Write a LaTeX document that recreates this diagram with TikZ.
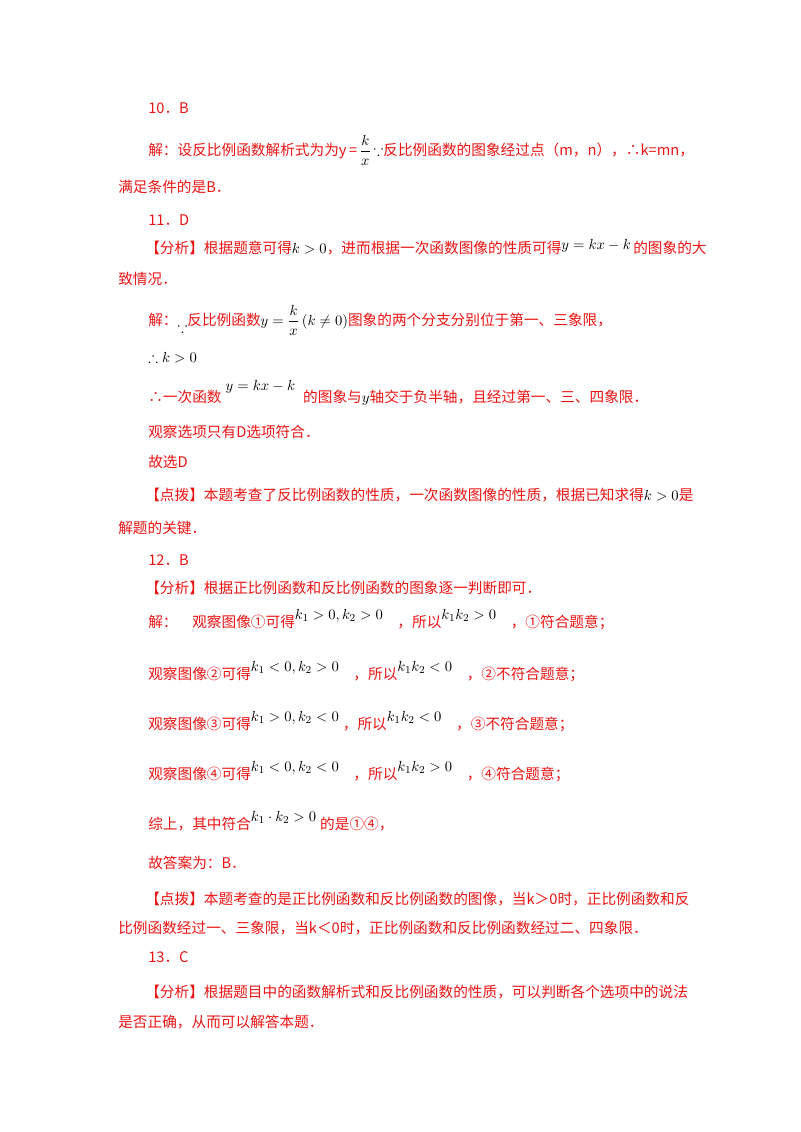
\documentclass[tikz,border=0pt]{standalone}
\usepackage{fontspec}
\setmainfont{Liberation Serif}
\newfontfamily\cjk{Noto Sans CJK SC}
\usepackage{amsmath,amssymb}
\definecolor{rd}{RGB}{235,20,20}
\newcommand{\mth}[1]{\textcolor{black}{$#1$}}
\newcommand{\up}[1]{\raisebox{1.0ex}{\textcolor{black}{$#1$}}}
\begin{document}
\begin{tikzpicture}[x=0.75pt,y=-0.75pt,
  ln/.style={anchor=base west,inner sep=0pt,text=rd,font=\cjk\fontsize{11}{13}\selectfont}]
\useasboundingbox (0,0) rectangle (800,1132);
\node[ln] (a1) at (148,113) {10．B};
\node[ln] (a2) at (148,155) {解：设反比例函数解析式为为y\,=\,\mth{\dfrac{k}{x}}\,\mth{\because}反比例函数的图象经过点（m，n），∴k=mn，};
\node[ln] (a3) at (118,192) {满足条件的是B．};
\node[ln] (a4) at (148,225) {11．D};
\node[ln] (a5) at (145,253) {【分析】根据题意可得\mth{k>0}，进而根据一次函数图像的性质可得\raisebox{0.4ex}{\mth{y=kx-k}}\,的图象的大};
\node[ln] (a6) at (118,284) {致情况．};
\node[ln] (a7) at (148,325) {解：\raisebox{-1ex}{\mth{\because}}反比例函数\mth{y=\dfrac{k}{x}\left(k\neq0\right)}图象的两个分支分别位于第一、三象限，};
\node[ln] (a8) at (148,362) {\mth{\therefore k>0}};
\node[ln] (a9) at (148,402) {∴一次函数\raisebox{1.4ex}{\mth{\;y=kx-k\;}}\;的图象与\mth{y}轴交于负半轴，且经过第一、三、四象限．};
\node[ln] (a10) at (148,437) {观察选项只有D选项符合．};
\node[ln] (a11) at (148,467) {故选D};
\node[ln] (a12) at (145,500) {【点拨】本题考查了反比例函数的性质，一次函数图像的性质，根据已知求得\mth{k>0}是};
\node[ln] (a13) at (118,533) {解题的关键．};
\node[ln] (a14) at (148,565) {12．B};
\node[ln] (a15) at (145,593) {【分析】根据正比例函数和反比例函数的图象逐一判断即可．};
\node[ln] (a16) at (148,627) {解：\quad 观察图像①可得\up{k_1>0,k_2>0}\quad，所以\up{k_1k_2>0}\quad，①符合题意；};
\node[ln] (a17) at (148,679) {观察图像②可得\up{k_1<0,k_2>0}\quad，所以\up{k_1k_2<0}\quad，②不符合题意；};
\node[ln] (a18) at (148,729) {观察图像③可得\up{k_1>0,k_2<0}\;，所以\up{k_1k_2<0}\quad，③不符合题意；};
\node[ln] (a19) at (148,779) {观察图像④可得\up{k_1<0,k_2<0}\quad，所以\up{k_1k_2>0}\quad，④符合题意；};
\node[ln] (a20) at (148,829) {综上，其中符合\up{k_1\cdot k_2>0}\;的是①④，};
\node[ln] (a21) at (148,868) {故答案为：B．};
\node[ln] (a22) at (145,904) {【点拨】本题考查的是正比例函数和反比例函数的图像，当k＞0时，正比例函数和反};
\node[ln] (a23) at (118,933) {比例函数经过一、三象限，当k＜0时，正比例函数和反比例函数经过二、四象限．};
\node[ln] (a24) at (148,962) {13．C};
\node[ln] (a25) at (145,997) {【分析】根据题目中的函数解析式和反比例函数的性质，可以判断各个选项中的说法};
\node[ln] (a26) at (118,1027) {是否正确，从而可以解答本题．};
\end{tikzpicture}
\end{document}
